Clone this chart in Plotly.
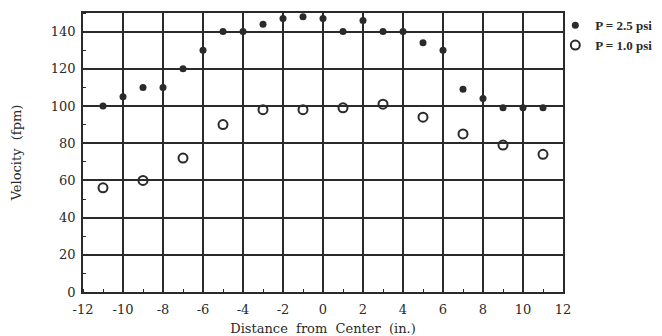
import plotly.graph_objects as go

x_hi = [-11, -10, -9, -8, -7, -6, -5, -4, -3, -2, -1, 0, 1, 2, 3, 4, 5, 6, 7, 8, 9, 10, 11]
v_hi = [100, 105, 110, 110, 120, 130, 140, 140, 144, 147, 148, 147, 140, 146, 140, 140, 134, 130, 109, 104, 99, 99, 99]

x_lo = [-11, -9, -7, -5, -3, -1, 1, 3, 5, 7, 9, 11]
v_lo = [56, 60, 72, 90, 98, 98, 99, 101, 94, 85, 79, 74]

x_ticks = [-12, -10, -8, -6, -4, -2, 0, 2, 4, 6, 8, 10, 12]
y_ticks = [0, 20, 40, 60, 80, 100, 120, 140]

ink = "#2a2a2a"
font_family = "DejaVu Serif, Liberation Serif, serif"

fig = go.Figure()
fig.add_trace(go.Scatter(
    x=x_hi, y=v_hi, mode="markers", name="<b>P = 2.5 psi</b>",
    marker=dict(symbol="circle", size=7, color=ink),
))
fig.add_trace(go.Scatter(
    x=x_lo, y=v_lo, mode="markers", name="<b>P = 1.0 psi</b>",
    marker=dict(symbol="circle-open", size=9, color=ink, line=dict(width=2, color=ink)),
))

fig.update_layout(
    width=662, height=336,
    margin=dict(l=83, r=99, t=13, b=44, autoexpand=False),
    paper_bgcolor="white", plot_bgcolor="white",
    font=dict(family=font_family, size=12, color=ink),
    showlegend=True,
    legend=dict(x=0.984, xanchor="left", y=1.01, yanchor="top",
                bgcolor="rgba(0,0,0,0)",
                font=dict(family="Liberation Serif, serif", size=13, color=ink),
                itemwidth=30, tracegroupgap=0),
    xaxis=dict(
        range=[-12, 12], tickvals=x_ticks, ticktext=[str(t) for t in x_ticks],
        showgrid=True, gridcolor=ink, gridwidth=1.5,
        zeroline=False, showline=True, linecolor=ink, linewidth=1.5, mirror=True,
        ticks="", tickfont=dict(size=13, color=ink), automargin=False,
        ticklabelstandoff=5,
        minor=dict(dtick=1, tick0=-11, ticks="inside", ticklen=3, tickcolor=ink, showgrid=False),
        title=dict(text="Distance  from  Center  (in.)", font=dict(size=13, color=ink), standoff=8),
    ),
    yaxis=dict(
        range=[0, 150], tickvals=y_ticks,
        showgrid=True, gridcolor=ink, gridwidth=1.5,
        zeroline=False, showline=True, linecolor=ink, linewidth=1.5, mirror=True,
        ticks="", tickfont=dict(size=13, color=ink), automargin=False,
        ticklabelstandoff=3,
        minor=dict(dtick=10, tick0=10, ticks="inside", ticklen=3, tickcolor=ink, showgrid=False),
        title=dict(text="Velocity  (fpm)", font=dict(size=13, color=ink), standoff=26),
    ),
)

fig.write_html("out.html", post_script="document.body.style.margin='0';",
               config={"displayModeBar": False})
